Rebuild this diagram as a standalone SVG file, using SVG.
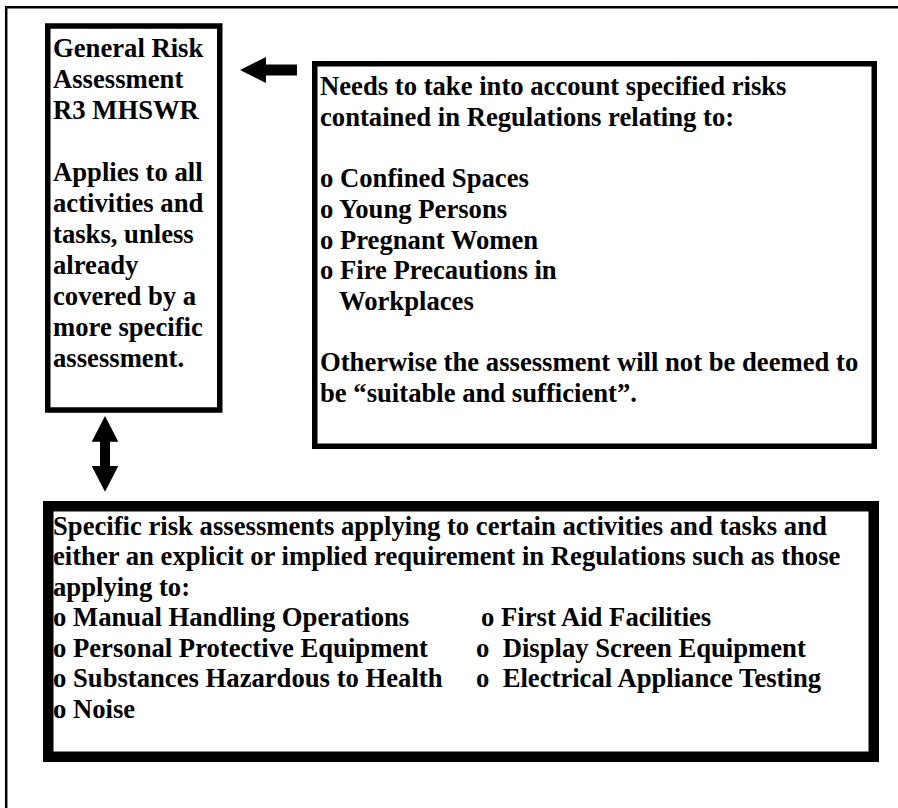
<svg xmlns="http://www.w3.org/2000/svg" width="898" height="808" viewBox="0 0 898 808">
<style>
  .t { font-family: "Liberation Serif", "Times New Roman", serif; font-weight: bold; font-size: 26.67px; fill: #000; }
  .box { fill: #fff; stroke: #000; }
  .arrow { fill: #000; stroke: none; }
</style>
<rect x="0" y="0" width="898" height="808" fill="#fff"/>
<g id="frame">
  <path d="M6.2,820 V7.2 H910" fill="none" stroke="#000" stroke-width="2.5"/>
</g>
<g id="general">
  <rect class="box" x="47.75" y="26" width="172" height="384" stroke-width="5.5"/>
  <text class="t" x="53" y="56.7">General Risk</text>
  <text class="t" x="53" y="87.7">Assessment</text>
  <text class="t" x="53" y="118.7">R3 MHSWR</text>
  <text class="t" x="53" y="180.7">Applies to all</text>
  <text class="t" x="53" y="211.7">activities and</text>
  <text class="t" x="53" y="242.7">tasks, unless</text>
  <text class="t" x="53" y="273.7">already</text>
  <text class="t" x="53" y="304.7">covered by a</text>
  <text class="t" x="53" y="335.7">more specific</text>
  <text class="t" x="53" y="366.7">assessment.</text>
</g>
<g id="specified">
  <rect class="box" x="314.75" y="63.75" width="559.5" height="382.5" stroke-width="5.5"/>
  <text class="t" x="320" y="95">Needs to take into account specified risks</text>
  <text class="t" x="320" y="125.7">contained in Regulations relating to:</text>
  <text class="t" x="320" y="187.1">o Confined Spaces</text>
  <text class="t" x="320" y="217.8">o Young Persons</text>
  <text class="t" x="320" y="248.5">o Pregnant Women</text>
  <text class="t" x="320" y="279.2">o Fire Precautions in</text>
  <text class="t" x="339" y="309.9">Workplaces</text>
  <text class="t" x="320" y="371.3">Otherwise the assessment will not be deemed to</text>
  <text class="t" x="320" y="402">be “suitable and sufficient”.</text>
</g>
<g id="specific">
  <rect class="box" x="48.25" y="506.25" width="825.5" height="250.5" stroke-width="10.5"/>
  <text class="t" x="53" y="534.5">Specific risk assessments applying to certain activities and tasks and</text>
  <text class="t" x="53" y="565">either an explicit or implied requirement in Regulations such as those</text>
  <text class="t" x="53" y="595.5">applying to:</text>
  <text class="t" x="53" y="626">o Manual Handling Operations</text>
  <text class="t" x="53" y="656.5">o Personal Protective Equipment</text>
  <text class="t" x="53" y="687">o Substances Hazardous to Health</text>
  <text class="t" x="53" y="717.5">o Noise</text>
  <text class="t" x="481" y="626">o First Aid Facilities</text>
  <text class="t" x="476" y="656.5" xml:space="preserve">o  Display Screen Equipment</text>
  <text class="t" x="476" y="687" xml:space="preserve">o  Electrical Appliance Testing</text>
</g>
<g id="connectors">
  <polygon class="arrow" points="240,70 266,57 266,64.5 297,64.5 297,75.5 266,75.5 266,83"/>
  <polygon class="arrow" points="105,416 118.3,441.7 110,441.7 110,466 118.3,466 105,491.7 91.7,466 100,466 100,441.7 91.7,441.7"/>
</g>
</svg>
